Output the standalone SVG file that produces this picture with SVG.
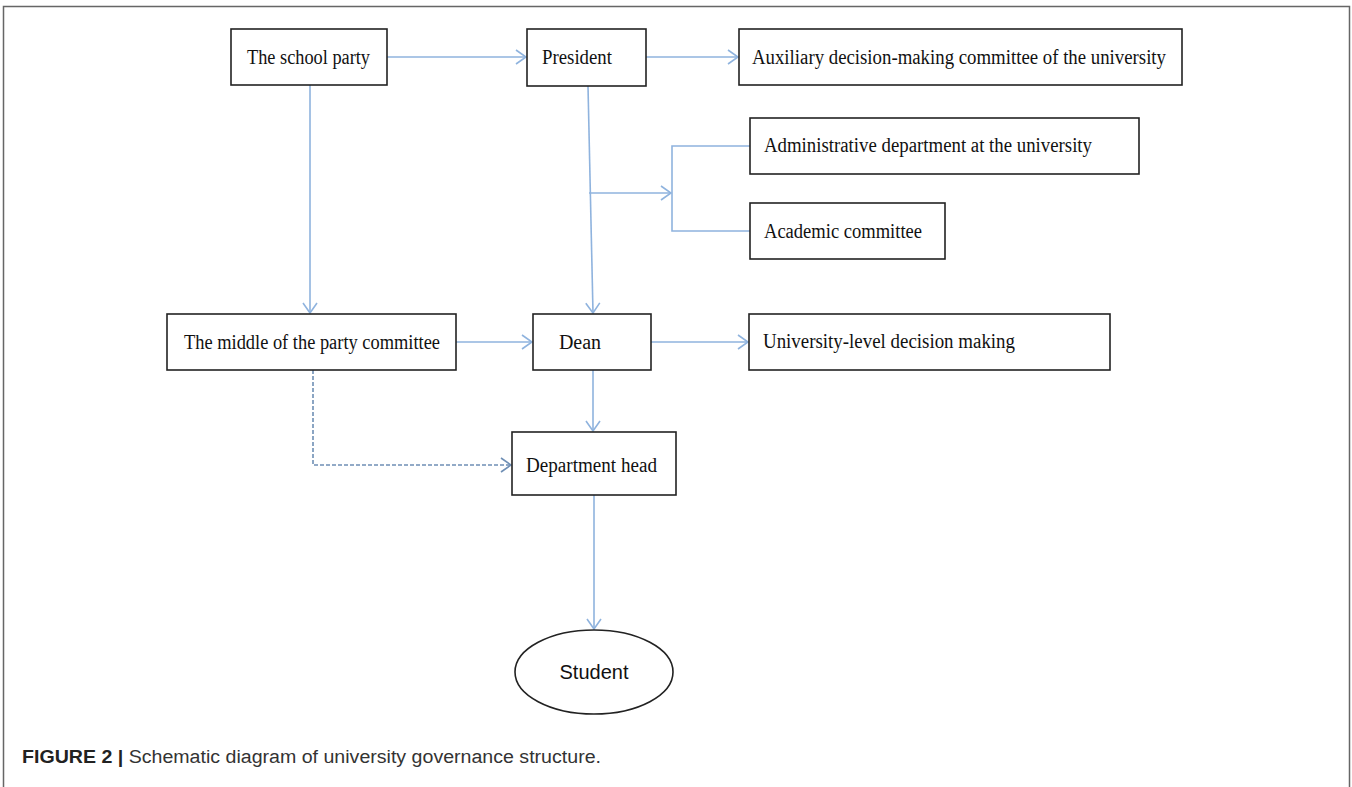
<svg xmlns="http://www.w3.org/2000/svg" width="1352" height="787" viewBox="0 0 1352 787">
<defs>
<marker id="arr" viewBox="0 0 12 16" refX="11" refY="8" markerWidth="12" markerHeight="16" markerUnits="userSpaceOnUse" orient="auto">
<path d="M1,1 L11,8 L1,15" fill="none" stroke="#8fb3de" stroke-width="1.6"/>
</marker>
<marker id="arrd" viewBox="0 0 12 16" refX="11" refY="8" markerWidth="12" markerHeight="16" markerUnits="userSpaceOnUse" orient="auto">
<path d="M1,1 L11,8 L1,15" fill="none" stroke="#6f8fb5" stroke-width="1.6"/>
</marker>
</defs>
<style>
.box{fill:#fff;stroke:#222;stroke-width:1.6}
.t{font-family:"Liberation Serif","Times New Roman",serif;font-size:20px;fill:#111}
.c{fill:none;stroke:#8fb3de;stroke-width:1.6}
.d{fill:none;stroke:#6f8fb5;stroke-width:1.6;stroke-dasharray:4 2}
.cap{font-family:"Liberation Sans",Arial,sans-serif;font-size:18px;fill:#333}
</style>
<rect width="1352" height="787" fill="#fff"/>
<rect x="3.5" y="6.5" width="1346" height="820" fill="none" stroke="#666" stroke-width="1.5"/>
<g id="connectors">
<path class="c" d="M387,57 H526" marker-end="url(#arr)"/>
<path class="c" d="M646,57 H738" marker-end="url(#arr)"/>
<path class="c" d="M310,85 V313" marker-end="url(#arr)"/>
<path class="c" d="M588,86 L593,313" marker-end="url(#arr)"/>
<path class="c" d="M589,193 H671" marker-end="url(#arr)"/>
<path class="c" d="M750,146 H672 V231 H750"/>
<path class="c" d="M456,342 H532" marker-end="url(#arr)"/>
<path class="c" d="M651,342 H748" marker-end="url(#arr)"/>
<path class="c" d="M593,370 V431" marker-end="url(#arr)"/>
<path class="d" d="M313,370 V465 H511" marker-end="url(#arrd)"/>
<path class="c" d="M594,495 V629" marker-end="url(#arr)"/>
</g>
<g id="school-party"><rect class="box" x="231" y="29" width="156" height="56"/><text class="t" x="247" y="64" textLength="123" lengthAdjust="spacingAndGlyphs">The school party</text></g>
<g id="president"><rect class="box" x="527" y="29" width="119" height="57"/><text class="t" x="542" y="64" textLength="70" lengthAdjust="spacingAndGlyphs">President</text></g>
<g id="auxiliary"><rect class="box" x="739" y="29" width="443" height="56"/><text class="t" x="752" y="64" textLength="414" lengthAdjust="spacingAndGlyphs">Auxiliary decision-making committee of the university</text></g>
<g id="administrative"><rect class="box" x="750" y="118" width="389" height="56"/><text class="t" x="764" y="152" textLength="328" lengthAdjust="spacingAndGlyphs">Administrative department at the university</text></g>
<g id="academic"><rect class="box" x="750" y="203" width="195" height="56"/><text class="t" x="764" y="238" textLength="158" lengthAdjust="spacingAndGlyphs">Academic committee</text></g>
<g id="middle-party"><rect class="box" x="167" y="314" width="289" height="56"/><text class="t" x="184" y="349" textLength="256" lengthAdjust="spacingAndGlyphs">The middle of the party committee</text></g>
<g id="dean"><rect class="box" x="533" y="314" width="118" height="56"/><text class="t" x="580" y="349" text-anchor="middle" font-size="22">Dean</text></g>
<g id="university-level"><rect class="box" x="749" y="314" width="361" height="56"/><text class="t" x="763" y="348" textLength="252" lengthAdjust="spacingAndGlyphs">University-level decision making</text></g>
<g id="department-head"><rect class="box" x="512" y="432" width="164" height="63"/><text class="t" x="526" y="472" textLength="131" lengthAdjust="spacingAndGlyphs">Department head</text></g>
<g id="student"><ellipse class="box" cx="594" cy="672" rx="79" ry="42"/><text x="594" y="679" text-anchor="middle" font-family="Liberation Sans, Arial, sans-serif" font-size="20" fill="#111">Student</text></g>
<text class="cap" x="22" y="763" textLength="579" lengthAdjust="spacingAndGlyphs"><tspan font-weight="bold" fill="#222">FIGURE 2 |</tspan> Schematic diagram of university governance structure.</text>
</svg>
